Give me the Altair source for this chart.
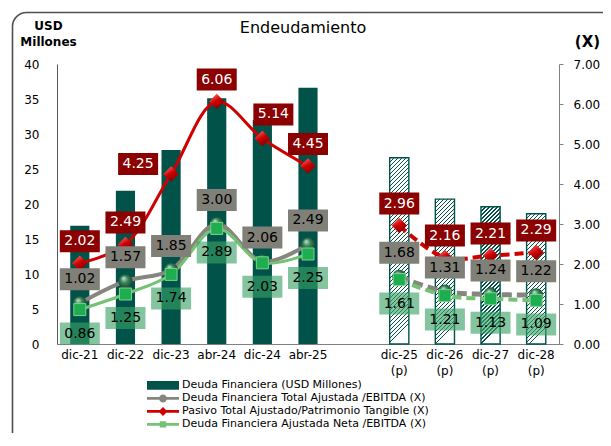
import altair as alt
import pandas as pd

# ---------------- data ----------------
cats_real = ['dic-21', 'dic-22', 'dic-23', 'abr-24', 'dic-24', 'abr-25']
cats_proj = ['dic-25 (p)', 'dic-26 (p)', 'dic-27 (p)', 'dic-28 (p)']
GAP = '_'
x_domain = cats_real + [GAP] + cats_proj

deuda_real = [16.9, 21.9, 27.7, 35.1, 32.0, 36.6]
deuda_proj = [26.6, 20.7, 19.6, 18.6]
ajustada_real = [1.02, 1.57, 1.85, 3.00, 2.06, 2.49]
ajustada_proj = [1.68, 1.31, 1.24, 1.22]
pasivo_real = [2.02, 2.49, 4.25, 6.06, 5.14, 4.45]
pasivo_proj = [2.96, 2.16, 2.21, 2.29]
neta_real = [0.86, 1.25, 1.74, 2.89, 2.03, 2.25]
neta_proj = [1.61, 1.21, 1.13, 1.09]

left_ticks = [0, 5, 10, 15, 20, 25, 30, 35, 40]
right_ticks = [0, 1, 2, 3, 4, 5, 6, 7]

chart_title = 'Endeudamiento'
legend_names = [
    'Deuda Financiera (USD Millones)',
    'Deuda Financiera Total Ajustada /EBITDA (X)',
    'Pasivo Total Ajustado/Patrimonio Tangible (X)',
    'Deuda Financiera Ajustada Neta /EBITDA (X)',
]

rows = []
i = 0
for c, d, a, p, n in zip(cats_real, deuda_real, ajustada_real, pasivo_real, neta_real):
    rows.append(dict(cat=c, periodo='real', orden=i, deuda=d, ajustada=a, pasivo=p, neta=n))
    i += 1
for c, d, a, p, n in zip(cats_proj, deuda_proj, ajustada_proj, pasivo_proj, neta_proj):
    rows.append(dict(cat=c, periodo='proj', orden=i, deuda=d, ajustada=a, pasivo=p, neta=n))
    i += 1
df = pd.DataFrame(rows)

# ---------------- style ----------------
W, H = 502, 280
LEFT_MAX, RIGHT_MAX = 40, 7
PAD_IN, PAD_OUT = 0.58, 0.29
FONT = 'DejaVu Sans'

BAR = '#01534A'
GRAY = '#86867E'
RED = '#D00000'
GREEN = '#74C274'

step = W / (len(x_domain) - PAD_IN + 2 * PAD_OUT)
band = step * (1 - PAD_IN)


def hatch(value):
    h = value * H / LEFT_MAX
    w = band
    r = w / h
    span = h * (1 + r * r)
    period, dark = 4.0, 1.4
    stops = []
    k = 0
    while k * period / span < 1:
        t0 = k * period / span
        t1 = min((k * period + dark) / span, 1)
        t2 = min((k + 1) * period / span, 1)
        for o, c in ((t0, BAR), (t1, BAR), (t1, '#ffffff'), (t2, '#ffffff')):
            stops.append(alt.GradientStop(offset=round(o, 5), color=c))
        k += 1
    return alt.LinearGradient(gradient='linear', x1=0, y1=0, x2=round(r, 5), y2=1, stops=stops)


SPHERE = alt.RadialGradient(
    gradient='radial', x1=0.36, y1=0.28, r1=0.02, x2=0.5, y2=0.5, r2=0.55,
    stops=[alt.GradientStop(offset=0, color='#b8e2c4'),
           alt.GradientStop(offset=0.45, color='#3a845a'),
           alt.GradientStop(offset=1, color='#173f2c')])
DIAMOND = alt.LinearGradient(
    gradient='linear', x1=0.2, y1=0, x2=0.8, y2=1,
    stops=[alt.GradientStop(offset=0, color='#ff7070'),
           alt.GradientStop(offset=0.45, color='#d00000'),
           alt.GradientStop(offset=1, color='#700000')])

BOX = 'M-1,-0.55L1,-0.55L1,0.55L-1,0.55Z'

xaxis = alt.Axis(title=None, ticks=False, domainColor='#808080', labelAngle=0, labelPadding=5,
                 labelFontSize=12, labelLineHeight=16, labelOverlap=False, grid=False,
                 labelExpr="datum.label == '_' ? '' : split(datum.label, ' ')")
X = alt.X('cat:N', scale=alt.Scale(domain=x_domain, paddingInner=PAD_IN, paddingOuter=PAD_OUT), axis=xaxis)

yl_axis = alt.Axis(title=['USD', 'Millones'], titleAngle=0, titleAlign='center', titleBaseline='top',
                   titleX=-9, titleY=-44, titleFontSize=12, titleFontWeight='bold', titleLineHeight=16,
                   values=left_ticks, ticks=False, domainColor='#595959', labelPadding=18,
                   labelFontSize=12, grid=False)
YL = alt.Y('deuda:Q', scale=alt.Scale(domain=[0, LEFT_MAX], nice=False), axis=yl_axis)

yr_axis = alt.Axis(orient='right', title='(X)', titleAngle=0, titleAlign='center', titleBaseline='top',
                   titleX=28, titleY=-30, titleFontSize=15, titleFontWeight='bold',
                   values=right_ticks, format='.2f', ticks=True, tickSize=4, tickColor='#808080',
                   domainColor='#808080', labelPadding=10, labelFontSize=12, grid=False)


def YR(field):
    return alt.Y(f'{field}:Q', scale=alt.Scale(domain=[0, RIGHT_MAX], nice=False), axis=yr_axis)


# ---------------- left layers ----------------
frame = alt.Chart(alt.Data(values=[{}])).mark_rect(
    filled=False, stroke='#505050', strokeWidth=1.6, cornerRadius=14
).encode(x=alt.value(-44.5), x2=alt.value(620), y=alt.value(-51.5), y2=alt.value(600))

title = alt.Chart(alt.Data(values=[{}])).mark_text(
    text=chart_title, fontSize=16, font=FONT, color='black', baseline='alphabetic', align='center'
).encode(x=alt.value(W / 2 - 5), y=alt.value(-31))

bars = alt.Chart(df).transform_filter(alt.datum.periodo == 'real').mark_bar(color=BAR).encode(x=X, y=YL)

hatch_layers = []
for c, v in zip(cats_proj, deuda_proj):
    hatch_layers.append(
        alt.Chart(df).transform_filter(alt.datum.cat == c)
        .mark_bar(fill=hatch(v), stroke=BAR, strokeWidth=1.4)
        .encode(x=X, y=YL)
    )

legend_paths = [
    'M-1,-0.27L1,-0.27L1,0.27L-1,0.27Z',
    'M-1,-0.09L1,-0.09L1,0.09L-1,0.09Z M0.25,0A0.25,0.25 0 1,1 -0.25,0A0.25,0.25 0 1,1 0.25,0Z',
    'M-1,-0.09L1,-0.09L1,0.09L-1,0.09Z M0,-0.28L0.28,0L0,0.28L-0.28,0Z',
    'M-1,-0.09L1,-0.09L1,0.09L-1,0.09Z M-0.2,-0.2L0.2,-0.2L0.2,0.2L-0.2,0.2Z',
]
legend_colors = [BAR, GRAY, RED, GREEN]
leg = alt.Legend(title=None, orient='none', legendX=90, legendY=315, direction='vertical',
                 symbolSize=1024, symbolStrokeWidth=0, labelFontSize=11, labelOffset=3,
                 labelLimit=500, clipHeight=12.8, rowPadding=0, padding=0, labelColor='black')
legend_layer = alt.Chart(alt.Data(values=[{'name': n} for n in legend_names])).mark_point(
    filled=True, opacity=1
).encode(
    color=alt.Color('name:N', scale=alt.Scale(domain=legend_names, range=legend_colors), legend=leg),
    shape=alt.Shape('name:N', scale=alt.Scale(domain=legend_names, range=legend_paths), legend=leg),
).transform_filter('false')

left = alt.layer(frame, title, bars, *hatch_layers, legend_layer)


# ---------------- right layers ----------------
def line(field, periodo, color, width, dash=None):
    mk = dict(color=color, strokeWidth=width, interpolate='catmull-rom')
    if dash:
        mk['strokeDash'] = dash
    return (alt.Chart(df).transform_filter(alt.datum.periodo == periodo)
            .mark_line(**mk).encode(x=X, y=YR(field), order='orden:Q'))


def labels(field, box_color, text_color, dy, dx=0, opacity=1.0, only=None, exclude=()):
    base = alt.Chart(df)
    if only is not None:
        base = base.transform_filter(alt.datum.cat == only)
    for e in exclude:
        base = base.transform_filter(alt.datum.cat != e)
    box = base.mark_point(shape=BOX, size=1600, filled=True, fill=box_color, opacity=opacity,
                          strokeWidth=0, xOffset=dx, yOffset=dy).encode(x=X, y=YR(field))
    txt = base.mark_text(fontSize=14, color=text_color, dx=dx, dy=dy, font=FONT).encode(
        x=X, y=YR(field), text=alt.Text(f'{field}:Q', format='.2f'))
    return [box, txt]


lines = [
    line('ajustada', 'real', GRAY, 4),
    line('ajustada', 'proj', GRAY, 5, [10, 5]),
    line('neta', 'real', GREEN, 3),
    line('neta', 'proj', GREEN, 4, [9, 5]),
    line('pasivo', 'real', RED, 3),
    line('pasivo', 'proj', RED, 4, [9, 5]),
]
markers = [
    alt.Chart(df).mark_point(shape='circle', size=200, filled=True, fill=SPHERE, strokeWidth=0, opacity=1)
    .encode(x=X, y=YR('ajustada')),
    alt.Chart(df).mark_point(shape='diamond', size=240, filled=True, fill=DIAMOND, strokeWidth=0, opacity=1)
    .encode(x=X, y=YR('pasivo')),
    alt.Chart(df).mark_point(shape='square', size=144, filled=True, fill='#1EAE50', stroke='#7fd08f',
                             strokeWidth=1, opacity=1)
    .encode(x=X, y=YR('neta')),
]
label_layers = (labels('ajustada', '#808078', 'black', -24)
                + labels('neta', '#39A164', 'black', 24, opacity=0.62)
                + labels('pasivo', '#8B0000', 'white', -22, exclude=('dic-23', 'dic-24'))
                + labels('pasivo', '#8B0000', 'white', -10, dx=-33, only='dic-23')
                + labels('pasivo', '#8B0000', 'white', -24, dx=11, only='dic-24'))

right = alt.layer(*lines, *markers, *label_layers)

chart = (
    alt.layer(left, right)
    .resolve_scale(y='independent')
    .properties(
        width=W, height=H,
        autosize=alt.AutoSizeParams(type='none'),
        padding={'left': 49, 'top': 56, 'right': 44, 'bottom': 89},
        background='white',
    )
    .configure(font=FONT)
    .configure_view(stroke=None)
    .configure_axis(labelFont=FONT, titleFont=FONT, labelColor='black', titleColor='black')
    .configure_legend(labelFont=FONT)
)

chart.save('out.html', embed_options={'renderer': 'svg', 'actions': False})
